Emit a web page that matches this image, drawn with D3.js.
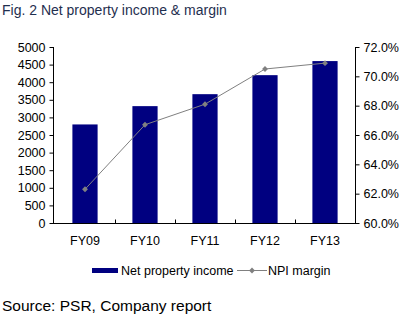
<!DOCTYPE html>
<html><head><meta charset="utf-8">
<script src="https://cdn.jsdelivr.net/npm/d3@7"></script>
<style>body{margin:0;background:#fff}svg{display:block}text{font-family:"Liberation Sans",Arial,sans-serif}</style>
</head><body><svg id="c" width="412" height="327"></svg>
<script>
const categories = ["FY09","FY10","FY11","FY12","FY13"];
const npi = [2800, 3320, 3660, 4200, 4600];
const margin = [62.3, 66.7, 68.1, 70.5, 70.9];
const leftTicks = [0,500,1000,1500,2000,2500,3000,3500,4000,4500,5000];
const rightTicks = [60,62,64,66,68,70,72];

const svg = d3.select("#c");
const x = d3.scaleBand().domain(categories).range([55,355]).paddingInner(0.58).paddingOuter(0.29);
const yL = d3.scaleLinear().domain([0,5000]).range([223,47]);
const yR = d3.scaleLinear().domain([60,72]).range([223,47]);

svg.append("text").attr("x",2).attr("y",15).attr("font-size",14).attr("fill","#1f2f4f").text("Fig. 2 Net property income & margin");

// bars
svg.selectAll("rect.bar").data(npi).join("rect").attr("class","bar")
  .attr("x",(d,i)=>x(categories[i])).attr("width",x.bandwidth())
  .attr("y",d=>yL(d)).attr("height",d=>yL(0)-yL(d)).attr("fill","#000080");

// left axis
const gL = svg.append("g").attr("transform","translate(53.5,0)")
  .call(d3.axisLeft(yL).tickValues(leftTicks).tickSize(4).tickPadding(4).tickFormat(d3.format("d")));
// right axis
const gR = svg.append("g").attr("transform","translate(355.5,0)")
  .call(d3.axisRight(yR).tickValues(rightTicks).tickSize(4).tickPadding(4).tickFormat(d=>d.toFixed(1)+"%"));
[gL,gR].forEach(g=>{
  g.select(".domain").attr("stroke","#000").attr("d","M0,47V223.5");
  g.selectAll(".tick line").attr("stroke","#000");
  g.selectAll(".tick text").attr("font-size",12.5).attr("fill","#000").attr("font-family","Liberation Sans, Arial, sans-serif");
});
// bottom axis
const gB = svg.append("g").attr("transform","translate(0,223.5)");
gB.append("line").attr("x1",53).attr("x2",356).attr("stroke","#000");
const bounds = categories.slice(1).map(c=>x(c)-x.step()*x.paddingInner()/2);
gB.selectAll("line.t").data(bounds).join("line").attr("class","t")
  .attr("x1",d=>Math.round(d)+0.5).attr("x2",d=>Math.round(d)+0.5).attr("y1",0).attr("y2",-4).attr("stroke","#000");
gB.selectAll("text").data(categories).join("text")
  .attr("x",d=>x(d)+x.bandwidth()/2).attr("y",21).attr("text-anchor","middle").attr("font-size",12.5).text(d=>d);

// line
const line = d3.line().x((d,i)=>x(categories[i])+x.bandwidth()/2).y(d=>yR(d));
svg.append("path").datum(margin).attr("d",line).attr("fill","none").attr("stroke","#808080").attr("stroke-width",1);
const sym = d3.symbol().type(d3.symbolDiamond2).size(22);
svg.selectAll("path.m").data(margin).join("path").attr("class","m")
  .attr("transform",(d,i)=>`translate(${x(categories[i])+x.bandwidth()/2},${yR(d)})`)
  .attr("d",sym).attr("fill","#808080");

// legend
const lg = svg.append("g");
lg.append("rect").attr("x",92).attr("y",268).attr("width",26).attr("height",5).attr("fill","#000080");
lg.append("text").attr("x",121).attr("y",275).attr("font-size",12.5).text("Net property income");
lg.append("line").attr("x1",237).attr("x2",267).attr("y1",270.5).attr("y2",270.5).attr("stroke","#808080");
lg.append("path").attr("transform","translate(252,270.5)").attr("d",sym).attr("fill","#808080");
lg.append("text").attr("x",268).attr("y",275).attr("font-size",12.5).text("NPI margin");

svg.append("text").attr("x",2).attr("y",311).attr("font-size",15.5).attr("fill","#000").text("Source: PSR, Company report");
</script></body></html>
